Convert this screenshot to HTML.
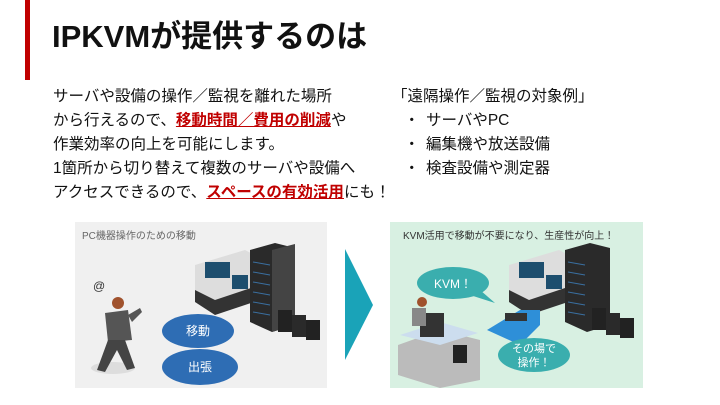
<!DOCTYPE html>
<html><head><meta charset="utf-8"><style>
*{margin:0;padding:0}
body{width:720px;height:405px;background:#fff;position:relative;overflow:hidden;font-family:"Liberation Sans","Noto Sans CJK JP",sans-serif;color:#111}
.a{position:absolute;white-space:nowrap}
.t{font-size:15.5px;line-height:24px}
.r{color:#c00000;font-weight:bold;text-decoration:underline}
</style></head><body>
<div class="a" style="left:25px;top:0;width:5px;height:80px;background:#c00000"></div>
<div class="a" style="left:52px;top:17px;font-size:31px;font-weight:bold;line-height:40px">IPKVMが提供するのは</div>
<div class="a t" style="left:53px;top:85px">サーバや設備の操作／監視を離れた場所<br>から行えるので、<span class="r">移動時間／費用の削減</span>や<br>作業効率の向上を可能にします。<br>1箇所から切り替えて複数のサーバや設備へ<br>アクセスできるので、<span class="r">スペースの有効活用</span>にも！</div>
<div class="a t" style="left:392px;top:85px">「遠隔操作／監視の対象例」</div>
<div class="a t" style="left:404px;top:109px">・<br>・<br>・</div>
<div class="a t" style="left:426px;top:109px">サーバやPC<br>編集機や放送設備<br>検査設備や測定器</div>

<svg class="a" style="left:0;top:0" width="720" height="405">
<rect x="75" y="222" width="252" height="166" fill="#f0f0f0"/>
<text x="82" y="239" font-size="10" fill="#666" font-family="Liberation Sans,Noto Sans CJK JP,sans-serif">PC機器操作のための移動</text>
<polygon points="195,265 245,250 260,258 260,300 215,315 195,300" fill="#ddd"/>
<polygon points="195,290 215,300 260,285 260,300 215,315 195,302" fill="#333"/>
<rect x="205" y="262" width="25" height="16" fill="#1d4e6e"/>
<rect x="232" y="275" width="16" height="14" fill="#1d4e6e"/>
<polygon points="250,250 275,243 295,248 295,325 272,332 250,322" fill="#2a2a2a"/>
<polygon points="272,250 295,244 295,325 272,332" fill="#444"/>
<g stroke="#3a6fa0" stroke-width="1">
<line x1="253" y1="262" x2="270" y2="265"/><line x1="253" y1="272" x2="270" y2="275"/><line x1="253" y1="282" x2="270" y2="285"/><line x1="253" y1="292" x2="270" y2="295"/><line x1="253" y1="302" x2="270" y2="305"/><line x1="253" y1="312" x2="270" y2="315"/></g>
<rect x="278" y="310" width="14" height="22" fill="#222"/><rect x="292" y="315" width="14" height="22" fill="#2a2a2a"/><rect x="306" y="320" width="14" height="20" fill="#222"/>
<ellipse cx="113" cy="368" rx="22" ry="6" fill="#ddd"/>
<circle cx="118" cy="303" r="6" fill="#a0522d"/>
<polygon points="105,313 128,310 132,340 108,342" fill="#555"/>
<polygon points="108,340 125,340 135,368 127,370 117,350 105,372 97,370" fill="#444"/>
<polygon points="128,315 140,308 142,312 132,322" fill="#555"/>
<text x="93" y="290" font-size="12" fill="#333">@</text>
<ellipse cx="198" cy="331" rx="36" ry="17" fill="#2e6db4"/>
<text x="198" y="335" font-size="12" fill="#fff" text-anchor="middle" font-family="Liberation Sans,Noto Sans CJK JP,sans-serif">移動</text>
<ellipse cx="200" cy="367" rx="38" ry="18" fill="#2e6db4"/>
<text x="200" y="371" font-size="12" fill="#fff" text-anchor="middle" font-family="Liberation Sans,Noto Sans CJK JP,sans-serif">出張</text>
<polygon points="345,249 373,305 345,360" fill="#1aa3b8"/>
<rect x="390" y="222" width="253" height="166" fill="#d8f0e2"/>
<text x="403" y="239" font-size="10" fill="#333" font-family="Liberation Sans,Noto Sans CJK JP,sans-serif">KVM活用で移動が不要になり、生産性が向上！</text>
<polygon points="509,265 559,250 574,258 574,300 529,315 509,300" fill="#ddd"/>
<polygon points="509,290 529,300 574,285 574,300 529,315 509,302" fill="#333"/>
<rect x="519" y="262" width="25" height="16" fill="#1d4e6e"/>
<rect x="546" y="275" width="16" height="14" fill="#1d4e6e"/>
<polygon points="565,250 590,243 610,248 610,325 587,332 565,322" fill="#2a2a2a"/>
<g stroke="#3a6fa0" stroke-width="1">
<line x1="568" y1="262" x2="585" y2="265"/><line x1="568" y1="272" x2="585" y2="275"/><line x1="568" y1="282" x2="585" y2="285"/><line x1="568" y1="292" x2="585" y2="295"/><line x1="568" y1="302" x2="585" y2="305"/><line x1="568" y1="312" x2="585" y2="315"/></g>
<rect x="592" y="308" width="14" height="22" fill="#222"/><rect x="606" y="313" width="14" height="22" fill="#2a2a2a"/><rect x="620" y="318" width="14" height="20" fill="#222"/>
<ellipse cx="453" cy="283" rx="36" ry="16" fill="#3aaeae"/>
<polygon points="470,295 495,303 480,290" fill="#3aaeae"/>
<text x="453" y="288" font-size="12" fill="#fff" text-anchor="middle">KVM！</text>
<polygon points="487,330 520,310 540,310 540,325 520,345" fill="#2e8fd8"/>
<rect x="505" y="313" width="22" height="8" fill="#333"/>
<polygon points="398,345 440,330 480,340 480,380 440,388 398,375" fill="#bbb"/>
<polygon points="400,335 440,322 478,333 440,345" fill="#cde"/>
<rect x="420" y="313" width="24" height="24" fill="#333"/>
<circle cx="422" cy="302" r="5" fill="#a0522d"/>
<rect x="412" y="308" width="14" height="18" fill="#888"/>
<rect x="453" y="345" width="14" height="18" fill="#222"/>
<ellipse cx="534" cy="355" rx="36" ry="17" fill="#3aaeae"/>
<text x="534" y="352" font-size="11" fill="#fff" text-anchor="middle" font-family="Liberation Sans,Noto Sans CJK JP,sans-serif">その場で</text>
<text x="534" y="366" font-size="11" fill="#fff" text-anchor="middle" font-family="Liberation Sans,Noto Sans CJK JP,sans-serif">操作！</text>
</svg>
</body></html>
